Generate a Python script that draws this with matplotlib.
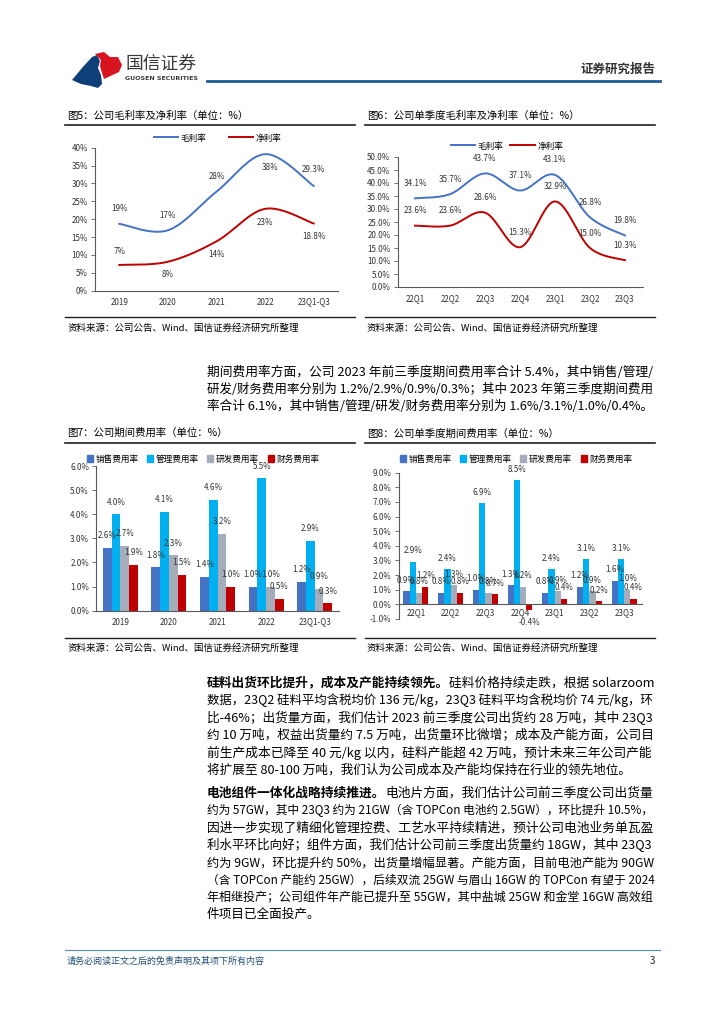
import numpy as np
import matplotlib
matplotlib.use('Agg')
import matplotlib.pyplot as plt
from matplotlib.patches import Polygon
from matplotlib.lines import Line2D
from matplotlib.patches import Patch

plt.rcParams['font.family'] = ['Noto Sans CJK SC', 'DejaVu Sans']
plt.rcParams['axes.unicode_minus'] = False

# ---------------- data ----------------
years = ['2019', '2020', '2021', '2022', '23Q1-Q3']
gross_y = [18.7, 16.9, 27.7, 38.2, 29.3]
gross_y_lbl = ['19%', '17%', '28%', '38%', '29.3%']
net_y = [7.2, 8.1, 13.8, 22.9, 18.8]
net_y_lbl = ['7%', '8%', '14%', '23%', '18.8%']

quarters = ['22Q1', '22Q2', '22Q3', '22Q4', '23Q1', '23Q2', '23Q3']
gross_q = [34.1, 35.7, 43.7, 37.1, 43.1, 26.8, 19.8]
net_q = [23.6, 23.6, 28.6, 15.3, 32.9, 15.0, 10.3]

exp_names = ['销售费用率', '管理费用率', '研发费用率', '财务费用率']
sales_y = [2.6, 1.8, 1.4, 1.0, 1.2]
admin_y = [4.0, 4.1, 4.6, 5.5, 2.9]
rd_y = [2.7, 2.3, 3.2, 1.0, 0.9]
fin_y = [1.9, 1.5, 1.0, 0.5, 0.3]

sales_q = [0.9, 0.8, 1.0, 1.3, 0.8, 1.2, 1.6]
admin_q = [2.9, 2.4, 6.9, 8.5, 2.4, 3.1, 3.1]
rd_q = [0.8, 1.3, 0.8, 1.2, 0.9, 0.9, 1.0]
fin_q = [1.2, 0.8, 0.7, -0.4, 0.4, 0.2, 0.4]

BLUE = '#4472C4'
RED = '#C00000'
CYAN = '#00B0F0'
GREY = '#A5ADBB'
bar_colors = [BLUE, CYAN, GREY, RED]
LBL_FS = 5.8
TICK_FS = 5.8

W, H = 724, 1024
fig = plt.figure(figsize=(7.24, 10.24), dpi=100)


def fx(x):
    return x / W


def fy(y):
    return 1 - y / H


def add_axes(l, t, r, b):
    return fig.add_axes([fx(l), fy(b), (r - l) / W, (b - t) / H])


def hline(x0, x1, y, color='#222222', lw=1.0):
    fig.add_artist(Line2D([fx(x0), fx(x1)], [fy(y), fy(y)], color=color, lw=lw,
                          transform=fig.transFigure))


def smooth(xs, ys, n=40):
    P = np.column_stack([np.asarray(xs, float), np.asarray(ys, float)])
    Pe = np.vstack([P[0], P, P[-1]])
    out = []
    t = np.linspace(0, 1, n)[:, None]
    for i in range(len(P) - 1):
        p0, p1, p2, p3 = Pe[i], Pe[i + 1], Pe[i + 2], Pe[i + 3]
        c1 = p1 + (p2 - p0) / 6
        c2 = p2 - (p3 - p1) / 6
        seg = (1 - t) ** 3 * p1 + 3 * (1 - t) ** 2 * t * c1 + 3 * (1 - t) * t ** 2 * c2 + t ** 3 * p2
        out.append(seg if i == 0 else seg[1:])
    return np.vstack(out)


def style_axes(ax, fs=TICK_FS):
    for s in ['top', 'right']:
        ax.spines[s].set_visible(False)
    for s in ['left', 'bottom']:
        ax.spines[s].set_color('#595959')
        ax.spines[s].set_linewidth(0.8)
    ax.tick_params(axis='y', direction='out', length=3, width=0.6, color='#595959',
                   labelsize=fs, labelcolor='#333333', pad=2)
    ax.tick_params(axis='x', length=0, labelsize=fs, labelcolor='#333333', pad=5)
    ax.patch.set_alpha(0)


# ---------------- header ----------------
blue_logo = [(72, 80), (82, 68), (92, 57), (97, 55), (100, 61), (98, 68), (101, 75),
             (102, 84), (98, 88), (91, 86), (81, 84)]
red_logo = [(95, 54), (104, 52), (110, 57), (118, 57), (122, 65), (119, 72), (104, 79),
            (102, 73), (100, 66), (101, 60)]
fig.add_artist(Polygon([(fx(a), fy(b)) for a, b in blue_logo], closed=True,
                       facecolor='#0E3F78', edgecolor='none', transform=fig.transFigure))
fig.add_artist(Polygon([(fx(a), fy(b)) for a, b in red_logo], closed=True,
                       facecolor='#D7141F', edgecolor='none', transform=fig.transFigure))
fig.text(fx(125), fy(64), '国信证券', fontsize=12.8, color='#3A3A3A', va='center', ha='left')
fig.text(fx(125), fy(79), 'GUOSEN SECURITIES', fontsize=4.5, color='#3A3A3A', va='center',
         ha='left', family=['DejaVu Sans'], fontweight='bold')
fig.text(fx(655), fy(69), '证券研究报告', fontsize=9, color='#333333', va='center', ha='right',
         fontweight='bold')
hline(207, 660, 81, color='#1F5C99', lw=2.0)

# ---------------- chart 5 ----------------
fig.text(fx(67), fy(116), '图5：公司毛利率及净利率（单位：%）', fontsize=7.5, va='center')
hline(65, 355, 125, lw=1.2)
ax5 = add_axes(95, 147.7, 338, 290.7)
x5 = np.arange(len(years))
g = smooth(x5, gross_y)
n = smooth(x5, net_y)
ax5.plot(g[:, 0], g[:, 1], color=BLUE, lw=1.4)
ax5.plot(n[:, 0], n[:, 1], color=RED, lw=1.4)
ax5.set_xlim(-0.5, len(years) - 0.5)
ax5.set_ylim(0, 40)
ax5.set_yticks(np.arange(0, 41, 5))
ax5.set_yticklabels([f'{v}%' for v in range(0, 41, 5)])
ax5.set_xticks(x5)
ax5.set_xticklabels(years)
style_axes(ax5)
g_off = [(0, 15), (0, 15), (0, 15), (5, -13), (0, 16)]
n_off = [(0, 13), (0, -13), (0, -13), (0, -14), (0, -13)]
for i in range(len(years)):
    if i == 3:
        ax5.annotate(gross_y_lbl[i], (x5[i], gross_y[i]), xytext=g_off[i], textcoords='offset pixels',
                     ha='center', va='center', fontsize=LBL_FS, color='#333333',
                     arrowprops=dict(arrowstyle='-', color='#888888', lw=0.5, shrinkA=4, shrinkB=1))
    else:
        ax5.annotate(gross_y_lbl[i], (x5[i], gross_y[i]), xytext=g_off[i], textcoords='offset pixels',
                     ha='center', va='center', fontsize=LBL_FS, color='#333333')
    ax5.annotate(net_y_lbl[i], (x5[i], net_y[i]), xytext=n_off[i], textcoords='offset pixels',
                 ha='center', va='center', fontsize=LBL_FS, color='#333333')
fig.legend([Line2D([], [], color=BLUE, lw=1.4), Line2D([], [], color=RED, lw=1.4)],
           ['毛利率', '净利率'], loc='center', bbox_to_anchor=(fx(218), fy(138)), ncol=2,
           frameon=False, fontsize=6.2, handlelength=2.8, handletextpad=0.3, columnspacing=2.6)
hline(65, 355, 317, lw=1.0)
fig.text(fx(67), fy(328), '资料来源：公司公告、Wind、国信证券经济研究所整理', fontsize=6.8, va='center')

# ---------------- chart 6 ----------------
fig.text(fx(367), fy(116), '图6：公司单季度毛利率及净利率（单位：%）', fontsize=7.5, va='center')
hline(365, 655, 125, lw=1.2)
ax6 = add_axes(397.5, 157, 642.5, 287)
x6 = np.arange(len(quarters))
g = smooth(x6, gross_q)
n = smooth(x6, net_q)
ax6.plot(g[:, 0], g[:, 1], color=BLUE, lw=1.4)
ax6.plot(n[:, 0], n[:, 1], color=RED, lw=1.4)
ax6.set_xlim(-0.5, len(quarters) - 0.5)
ax6.set_ylim(0, 50)
ax6.set_yticks(np.arange(0, 51, 5))
ax6.set_yticklabels([f'{v:.1f}%' for v in range(0, 51, 5)])
ax6.set_xticks(x6)
ax6.set_xticklabels(quarters)
style_axes(ax6)
for i in range(len(quarters)):
    ax6.annotate(f'{gross_q[i]:.1f}%', (x6[i], gross_q[i]), xytext=(0, 15), textcoords='offset pixels',
                 ha='center', va='center', fontsize=LBL_FS, color='#333333')
    ax6.annotate(f'{net_q[i]:.1f}%', (x6[i], net_q[i]), xytext=(0, 15), textcoords='offset pixels',
                 ha='center', va='center', fontsize=LBL_FS, color='#333333')
fig.legend([Line2D([], [], color=BLUE, lw=1.4), Line2D([], [], color=RED, lw=1.4)],
           ['毛利率', '净利率'], loc='center', bbox_to_anchor=(fx(507), fy(146)), ncol=2,
           frameon=False, fontsize=6.2, handlelength=2.8, handletextpad=0.3, columnspacing=0.8)
hline(365, 655, 317, lw=1.0)
fig.text(fx(367), fy(328), '资料来源：公司公告、Wind、国信证券经济研究所整理', fontsize=6.8, va='center')

# ---------------- body text ----------------
BODY_FS = 9.1
TEXT_L, TEXT_R = 207, 653
renderer = fig.canvas.get_renderer()


def body_line(x, y, segments, full=True):
    texts = []
    for txt, bold in segments:
        t = fig.text(0, fy(y), txt, fontsize=BODY_FS, va='center', ha='left', color='#000000',
                     fontweight='bold' if bold else 'normal')
        texts.append(t)
    total = sum(t.get_window_extent(renderer).width for t in texts)
    target = TEXT_R - TEXT_L
    scale = target / total
    if full:
        scale = min(max(scale, 0.88), 1.04)
    else:
        scale = min(scale, 1.0)
    cx = x
    for t in texts:
        t.set_fontsize(BODY_FS * scale)
        t.set_x(fx(cx))
        cx += t.get_window_extent(renderer).width


block1 = [
    '期间费用率方面，公司 2023 年前三季度期间费用率合计 5.4%，其中销售/管理/',
    '研发/财务费用率分别为 1.2%/2.9%/0.9%/0.3%；其中 2023 年第三季度期间费用',
    '率合计 6.1%，其中销售/管理/研发/财务费用率分别为 1.6%/3.1%/1.0%/0.4%。',
]
for i, s in enumerate(block1):
    body_line(TEXT_L, 372 + 17.4 * i, [(s, False)], full=True)

block2 = [
    [('硅料出货环比提升，成本及产能持续领先。', True), ('硅料价格持续走跌，根据 solarzoom', False)],
    [('数据，23Q2 硅料平均含税均价 136 元/kg，23Q3 硅料平均含税均价 74 元/kg，环', False)],
    [('比-46%；出货量方面，我们估计 2023 前三季度公司出货约 28 万吨，其中 23Q3', False)],
    [('约 10 万吨，权益出货量约 7.5 万吨，出货量环比微增；成本及产能方面，公司目', False)],
    [('前生产成本已降至 40 元/kg 以内，硅料产能超 42 万吨，预计未来三年公司产能', False)],
    [('将扩展至 80-100 万吨，我们认为公司成本及产能均保持在行业的领先地位。', False)],
]
for i, segs in enumerate(block2):
    body_line(TEXT_L, 683 + 17.4 * i, segs, full=(i < len(block2) - 1))

block3 = [
    [('电池组件一体化战略持续推进。', True), ('电池片方面，我们估计公司前三季度公司出货量', False)],
    [('约为 57GW，其中 23Q3 约为 21GW（含 TOPCon 电池约 2.5GW），环比提升 10.5%，', False)],
    [('因进一步实现了精细化管理控费、工艺水平持续精进，预计公司电池业务单瓦盈', False)],
    [('利水平环比向好；组件方面，我们估计公司前三季度出货量约 18GW，其中 23Q3', False)],
    [('约为 9GW，环比提升约 50%，出货量增幅显著。产能方面，目前电池产能为 90GW', False)],
    [('（含 TOPCon 产能约 25GW），后续双流 25GW 与眉山 16GW 的 TOPCon 有望于 2024', False)],
    [('年相继投产；公司组件年产能已提升至 55GW，其中盐城 25GW 和金堂 16GW 高效组', False)],
    [('件项目已全面投产。', False)],
]
for i, segs in enumerate(block3):
    body_line(TEXT_L, 793 + 17.4 * i, segs, full=(i < len(block3) - 1))

# ---------------- chart 7 ----------------
fig.text(fx(67), fy(433), '图7：公司期间费用率（单位：%）', fontsize=7.5, va='center')
hline(65, 355, 443, lw=1.2)
ax7 = add_axes(96, 466, 339, 610.7)
x7 = np.arange(len(years))
bw = 0.18
series7 = [sales_y, admin_y, rd_y, fin_y]
for k, vals in enumerate(series7):
    xs = x7 + (k - 1.5) * bw
    ax7.bar(xs, vals, width=bw, color=bar_colors[k], label=exp_names[k], zorder=2)
    for xi, v in zip(xs, vals):
        ax7.annotate(f'{v:.1f}%', (xi, v), xytext=(0, 12), textcoords='offset pixels',
                     ha='center', va='center', fontsize=LBL_FS, color='#333333')
ax7.set_xlim(-0.5, len(years) - 0.5)
ax7.set_ylim(0, 6)
ax7.set_yticks(np.arange(0, 7, 1))
ax7.set_yticklabels([f'{v:.1f}%' for v in range(0, 7)])
ax7.set_xticks(x7)
ax7.set_xticklabels(years)
style_axes(ax7)
fig.legend([Patch(color=c) for c in bar_colors], exp_names, loc='center',
           bbox_to_anchor=(fx(203), fy(459)), ncol=4, frameon=False, fontsize=6.2,
           handlelength=0.7, handleheight=0.7, handletextpad=0.3, columnspacing=1.0)
hline(65, 355, 638, lw=1.0)
fig.text(fx(67), fy(648), '资料来源：公司公告、Wind、国信证券经济研究所整理', fontsize=6.8, va='center')

# ---------------- chart 8 ----------------
fig.text(fx(367), fy(434), '图8：公司单季度期间费用率（单位：%）', fontsize=7.5, va='center')
hline(365, 655, 443, lw=1.2)
ax8 = add_axes(398.5, 472.7, 641.5, 619)
x8 = np.arange(len(quarters))
series8 = [sales_q, admin_q, rd_q, fin_q]
for k, vals in enumerate(series8):
    xs = x8 + (k - 1.5) * bw
    ax8.bar(xs, vals, width=bw, color=bar_colors[k], label=exp_names[k], zorder=2)
    for xi, v in zip(xs, vals):
        off = 11 if v >= 0 else -12
        ax8.annotate(f'{v:.1f}%', (xi, v), xytext=(0, off), textcoords='offset pixels',
                     ha='center', va='center', fontsize=LBL_FS, color='#333333')
ax8.set_xlim(-0.5, len(quarters) - 0.5)
ax8.set_ylim(-1, 9)
ax8.set_yticks(np.arange(-1, 10, 1))
ax8.set_yticklabels([f'{v:.1f}%' for v in range(-1, 10)])
ax8.set_xticks(x8)
ax8.set_xticklabels(quarters)
style_axes(ax8)
ax8.spines['bottom'].set_position(('data', 0))
ax8.tick_params(axis='x', pad=3)
fig.legend([Patch(color=c) for c in bar_colors], exp_names, loc='center',
           bbox_to_anchor=(fx(516), fy(459)), ncol=4, frameon=False, fontsize=6.2,
           handlelength=0.7, handleheight=0.7, handletextpad=0.3, columnspacing=1.0)
hline(365, 655, 638, lw=1.0)
fig.text(fx(367), fy(648), '资料来源：公司公告、Wind、国信证券经济研究所整理', fontsize=6.8, va='center')

# ---------------- footer ----------------
hline(65, 660, 950, color='#5B8DB8', lw=0.8)
fig.text(fx(67), fy(961), '请务必阅读正文之后的免责声明及其项下所有内容', fontsize=6.5,
         color='#1F4E79', va='center', ha='left')
fig.text(fx(655), fy(961), '3', fontsize=7, color='#222222', va='center', ha='right')

fig.savefig('out.png', dpi=100)
